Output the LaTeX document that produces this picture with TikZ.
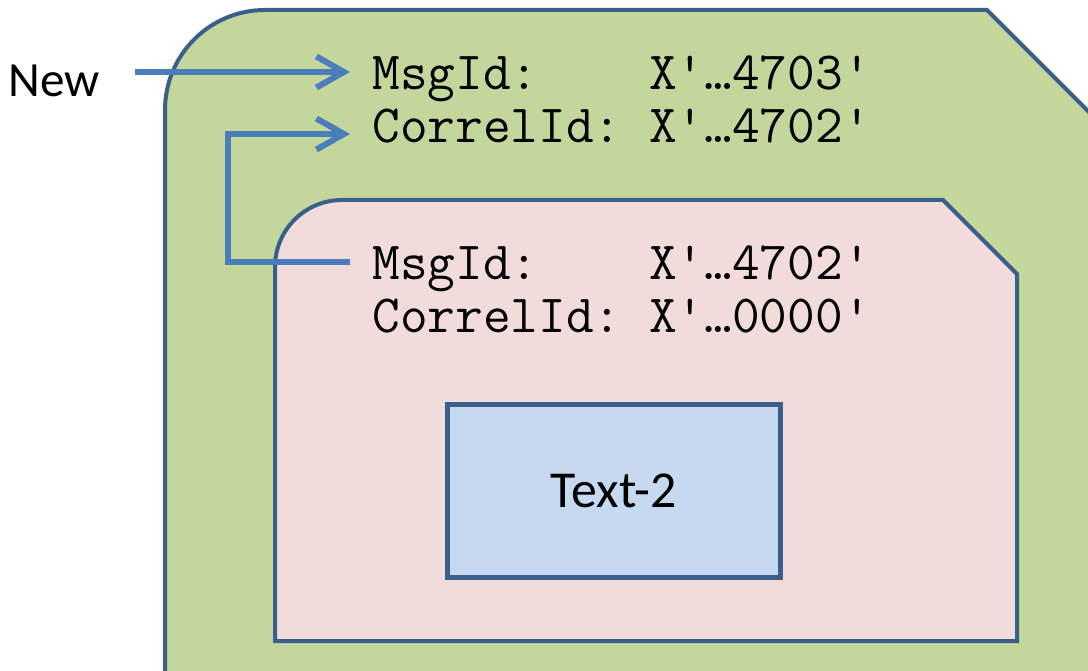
\documentclass[tikz,border=0pt]{standalone}
\usepackage{fontspec}
\usepackage{xcolor}
\newfontfamily\calibri{Carlito}
\usetikzlibrary{arrows.meta}
\definecolor{greenfill}{HTML}{C3D69B}
\definecolor{pinkfill}{HTML}{F2DCDB}
\definecolor{bluefill}{HTML}{C6D9F1}
\definecolor{edgeblue}{HTML}{3A5F8B}
\definecolor{arrowblue}{HTML}{4A7EBB}
\begin{document}
\begin{tikzpicture}[x=0.02cm, y=-0.02cm,
    outline/.style={draw=edgeblue, line width=0.08cm},
    msg/.style={anchor=base west, inner xsep=0.44cm, inner ysep=0pt, text height=0.72cm, text depth=0pt, font=\ttfamily\fontsize{30.6}{36}\selectfont},
    box/.style={draw=edgeblue, line width=0.1cm, fill=bluefill, minimum width=6.66cm, minimum height=3.48cm, font=\calibri\fontsize{29.5}{34}\selectfont},
    flow/.style={draw=arrowblue, line width=0.12cm, -{Straight Barb[length=0.55cm, width=0.62cm]}}
]
\clip (0,0) rectangle (1088,671);
% outer message
\path[outline, fill=greenfill] (165,700) -- (165,110) arc[start angle=180, end angle=270, radius=100] -- (987,10) -- (1105,128) -- (1105,700) -- cycle;
% inner message
\path[outline, fill=pinkfill] (275,641) -- (275,267) arc[start angle=180, end angle=270, radius=67] -- (943,200) -- (1017,274) -- (1017,641) -- cycle;
\node[box] (txt) at (614,491) {Text-2};
\node[msg] (msg1) at (350,90) {MsgId:\ \ \ \ X'…4703'};
\node[msg] (corr1) at (350,143) {CorrelId:\ X'…4702'};
\node[msg] (msg2) at (350,280) {MsgId:\ \ \ \ X'…4702'};
\node[msg] (corr2) at (350,333) {CorrelId:\ X'…0000'};
\node[inner xsep=0.7cm, font=\calibri\fontsize{28}{34}\selectfont] (new) at (54,81) {New};
\coordinate (turn) at (228,0);
\draw[flow] (new.east |- msg1.west) -- (msg1.west);
\draw[flow] (msg2.west) -- (msg2.west -| turn) |- ([yshift=-0.18cm]corr1.west);
\end{tikzpicture}
\end{document}
